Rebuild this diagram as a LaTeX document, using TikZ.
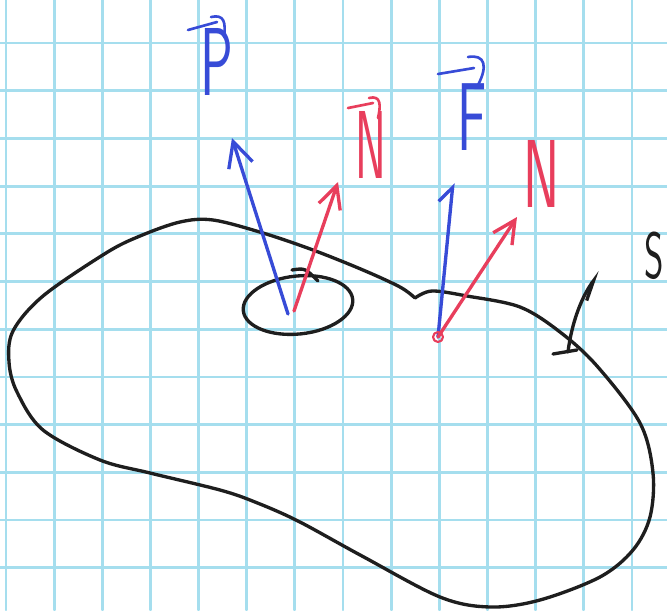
\documentclass[tikz,border=0pt]{standalone}
\usepackage{graphicx}
\usetikzlibrary{arrows.meta}
\definecolor{grade}{RGB}{165,222,238}
\definecolor{azul}{RGB}{55,75,215}
\definecolor{vermelho}{RGB}{232,62,92}
\definecolor{tinta}{RGB}{30,30,30}
\newcommand{\alta}[1]{\scalebox{1}[1.7]{$\mathsf{#1}$}}
\begin{document}
\begin{tikzpicture}[x=0.02cm, y=-0.02cm, line cap=round, line join=round,
  >={Straight Barb[length=5mm, width=5mm]},
  caneta/.style={line width=1.9pt},
  traco/.style={line width=1.5pt},
  rotulo/.style={font=\Huge, inner sep=0pt, anchor=base},
  letra/.style={rotulo, xscale=1.25, yscale=1.3}]
\useasboundingbox (0,0) rectangle (667,610);
\fill[white] (0,0) rectangle (667,610);
% Grade
\foreach \i in {0,...,13}
  \draw[grade, line width=1.6pt] ({6+48.15*\i},0) -- ({6+48.15*\i},610);
\foreach \j in {0,...,11}
  \draw[grade, line width=1.6pt] (0,{43+47.7*\j}) -- (667,{43+47.7*\j});
% Superficie S (comeca e termina no bico)
\draw[caneta, tinta] plot[smooth, tension=0.55] coordinates {
  (415,298) (432,291) (467,296) (520,307) (560,332) (597,366) (640,423) (653,473)
  (650,517) (633,550) (600,577) (540,600) (490,607) (440,597) (362,556)
  (298,521) (255,502) (220,490) (150,473) (100,460) (43,430) (17,392)
  (9,362) (13,331) (43,296) (106,253) (140,236) (180,222) (213,220)
  (263,233) (313,250) (363,270) (400,287) (415,298)};
% Elipse
\draw[caneta, tinta, rotate around={6:(298,305)}] (298,305) ellipse [x radius=1.1cm, y radius=0.58cm];
\draw[caneta, tinta] (292,270) .. controls (305,268) .. (318,281);
% Vetores
\coordinate (baseA) at (288,314);
\coordinate (pontaP) at (232,138);
\coordinate (baseN) at (294,311);
\coordinate (pontaN) at (338,182);
\coordinate (baseB) at (438,337);
\coordinate (pontaF) at (453,183);
\coordinate (pontaN2) at (517,217);
\draw[caneta, azul, ->] (baseA) -- (pontaP);
\draw[caneta, vermelho, -{Straight Barb[length=4.5mm, width=4.5mm]}] (baseN) -- (pontaN);
\draw[caneta, azul, -{Straight Barb[harpoon, length=3mm, width=5mm]}] (baseB) -- (pontaF);
\draw[caneta, vermelho, -{Straight Barb[length=4.5mm, width=4.5mm]}] (baseB) -- (pontaN2);
\draw[vermelho, line width=1.2pt] (baseB) circle [radius=0.1cm];
% Seta do S
\coordinate (pe) at (568,352);
\coordinate (pontaS) at (600,272);
\draw[caneta, tinta, -{Straight Barb[harpoon, swap, length=4mm, width=2.5mm]}] (pe) .. controls (572,320) and (583,295) .. (pontaS);
\draw[caneta, tinta] (553,354) -- (577,350);
% Labels
\node[letra, azul] (rotP) at (217,95) {\alta{P}};
\node[letra, vermelho, xscale=0.85] (rotN) at (371,178) {\alta{N}};
\node[letra, azul] (rotF) at (472,150) {\alta{F}};
\node[letra, vermelho] (rotN2) at (542,207) {\alta{N}};
\node[rotulo, tinta, xscale=0.85, yscale=1.5] (rotS) at (654,278) {$\mathsf{S}$};
% Setinhas dos vetores
\draw[traco, azul] (188,30) -- (217,22);
\draw[traco, azul] (211,17) .. controls (224,14) and (226,22) .. (224,37);
\draw[traco, vermelho] (348,108) -- (373,103);
\draw[traco, vermelho] (369,98) .. controls (381,95) and (381,105) .. (378,118);
\draw[traco, azul] (438,74) -- (474,68);
\draw[traco, azul] (468,57) .. controls (485,54) and (488,66) .. (478,85);
\end{tikzpicture}
\end{document}
